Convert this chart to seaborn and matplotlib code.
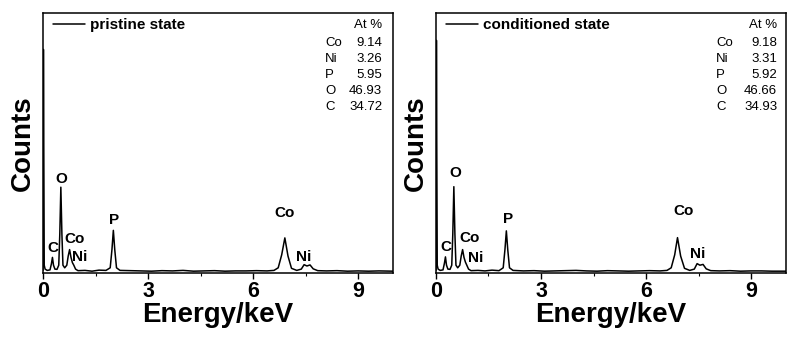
import matplotlib
matplotlib.use("Agg")
import matplotlib.pyplot as plt
from matplotlib.ticker import MultipleLocator
import seaborn as sns
import pandas as pd

# ---------------- data ----------------
energy_pristine = [0.00, 0.012, 0.02, 0.035, 0.06, 0.12, 0.20, 0.24, 0.27, 0.30, 0.34, 0.40,
                   0.45, 0.48, 0.51, 0.54, 0.57, 0.62, 0.68, 0.72, 0.76, 0.80, 0.84, 0.88,
                   0.93, 1.00, 1.20, 1.40, 1.60, 1.80, 1.92, 1.97, 2.01, 2.05, 2.10, 2.20,
                   2.50, 2.80, 3.10, 3.40, 3.70, 4.00, 4.30, 4.60, 4.90, 5.20, 5.50, 5.80,
                   6.10, 6.40, 6.60, 6.72, 6.82, 6.91, 7.00, 7.10, 7.25, 7.38, 7.46, 7.54,
                   7.63, 7.72, 7.85, 8.10, 8.40, 8.70, 9.00, 9.30, 9.60, 10.0]
counts_pristine = [1.0, 86.0, 58.0, 3.0, 1.5, 1.0, 1.2, 3.5, 6.0, 3.0, 1.5, 1.4,
                   3.0, 15.0, 33.0, 15.0, 3.0, 2.0, 3.0, 6.5, 9.0, 6.0, 4.0, 3.0,
                   1.5, 0.9, 1.0, 0.7, 1.1, 1.0, 2.0, 9.0, 16.4, 9.0, 2.0, 1.0,
                   0.9, 0.8, 0.7, 0.9, 0.8, 1.0, 0.7, 0.8, 0.9, 0.7, 0.8, 0.8,
                   0.9, 0.8, 1.0, 2.0, 7.0, 13.5, 6.5, 1.8, 1.0, 1.5, 3.2, 2.7,
                   3.1, 1.6, 0.9, 0.8, 0.9, 0.7, 0.8, 0.7, 0.8, 0.7]

energy_conditioned = [0.00, 0.012, 0.02, 0.035, 0.06, 0.12, 0.20, 0.24, 0.27, 0.30, 0.34, 0.40,
                      0.45, 0.48, 0.51, 0.54, 0.57, 0.62, 0.68, 0.72, 0.76, 0.80, 0.84, 0.88,
                      0.93, 1.00, 1.20, 1.40, 1.60, 1.80, 1.92, 1.97, 2.01, 2.05, 2.10, 2.20,
                      2.50, 2.80, 3.10, 3.40, 3.70, 4.00, 4.30, 4.60, 4.90, 5.20, 5.50, 5.80,
                      6.10, 6.40, 6.60, 6.72, 6.82, 6.90, 6.99, 7.10, 7.25, 7.38, 7.46, 7.54,
                      7.63, 7.72, 7.85, 8.10, 8.40, 8.70, 9.00, 9.30, 9.60, 10.0]
counts_conditioned = [1.0, 89.5, 57.0, 3.0, 1.5, 1.0, 1.2, 3.7, 6.2, 3.0, 1.5, 1.4,
                      3.0, 15.0, 33.2, 15.0, 3.0, 2.0, 3.0, 6.5, 9.0, 6.0, 4.2, 3.0,
                      1.5, 0.9, 1.0, 0.8, 1.1, 0.9, 2.0, 9.0, 16.2, 9.0, 2.0, 1.0,
                      0.8, 0.9, 0.7, 0.8, 0.9, 1.0, 0.8, 0.7, 0.9, 0.8, 0.7, 0.8,
                      0.9, 0.8, 1.0, 2.0, 7.0, 13.6, 6.5, 1.8, 1.0, 1.5, 3.6, 3.0,
                      3.3, 1.6, 0.9, 0.8, 0.9, 0.7, 0.8, 0.8, 0.7, 0.7]

legend_labels = ["pristine state", "conditioned state"]
elements = ["Co", "Ni", "P", "O", "C"]
at_pristine = ["9.14", "3.26", "5.95", "46.93", "34.72"]
at_conditioned = ["9.18", "3.31", "5.92", "46.66", "34.93"]

peak_names = ["O", "C", "Co", "Ni", "P", "Co", "Ni"]
peak_label_e_pristine = [0.51, 0.27, 0.91, 1.06, 2.03, 6.91, 7.46]
peak_label_y_pristine = [36.0, 9.5, 13.0, 6.2, 20.4, 23.0, 6.2]
peak_label_e_conditioned = [0.55, 0.27, 0.96, 1.13, 2.05, 7.06, 7.48]
peak_label_y_conditioned = [38.5, 10.0, 13.6, 5.9, 20.9, 23.8, 7.2]

xticks = [0, 3, 6, 9]

# ---------------- style ----------------
sns.set_style("ticks")
plt.rcParams["font.family"] = ["Liberation Sans", "DejaVu Sans"]
plt.rcParams["text.color"] = "black"
plt.rcParams["axes.labelcolor"] = "black"
plt.rcParams["xtick.color"] = "black"
plt.rcParams["axes.edgecolor"] = "black"

fig = plt.figure(figsize=(7.91, 3.38), dpi=100)
ax_l = fig.add_axes([43 / 791, 65 / 338, 350 / 791, 260 / 338])
ax_r = fig.add_axes([436 / 791, 65 / 338, 350 / 791, 260 / 338])

panels = [
    (ax_l, energy_pristine, counts_pristine, legend_labels[0], at_pristine,
     peak_label_e_pristine, peak_label_y_pristine, 0.806, 0.969),
    (ax_r, energy_conditioned, counts_conditioned, legend_labels[1], at_conditioned,
     peak_label_e_conditioned, peak_label_y_conditioned, 0.80, 0.975),
]

for ax, e, c, lab, at, pe, py, xl, xv in panels:
    df = pd.DataFrame({"Energy": e, "Counts": c})
    sns.lineplot(data=df, x="Energy", y="Counts", ax=ax, color="black", lw=1.1,
                 estimator=None, sort=False, label=lab)
    ax.set_xlim(0, 10)
    ax.set_ylim(0, 100)
    ax.set_yticks([])
    ax.set_xticks(xticks)
    ax.xaxis.set_minor_locator(MultipleLocator(1.5))
    ax.tick_params(axis="x", which="major", direction="out", length=4, width=1.0,
                   labelsize=15.5, pad=2, colors="black")
    ax.tick_params(axis="x", which="minor", direction="out", length=2.5, width=0.8)
    for t in ax.get_xticklabels():
        t.set_fontweight("bold")
    for s in ax.spines.values():
        s.set_visible(True)
        s.set_linewidth(1.1)
        s.set_color("black")
    ax.set_xlabel("Energy/keV", fontsize=20, fontweight="bold", labelpad=0, color="black")
    ax.set_ylabel("Counts", fontsize=20, fontweight="bold", labelpad=5, color="black")

    leg = ax.legend(loc="upper left", bbox_to_anchor=(0.012, 1.0), frameon=False,
                    handlelength=2.1, handletextpad=0.35, borderaxespad=0.15,
                    borderpad=0.2, prop={"weight": "bold", "size": 11})
    for t in leg.get_texts():
        t.set_color("black")

    for name, x, y in zip(peak_names, pe, py):
        ax.text(x, y, name, ha="center", va="center", fontsize=11,
                fontweight="bold", color="black")

    ax.text(xv, 0.954, "At %", transform=ax.transAxes, ha="right", va="center",
            fontsize=9.5, color="black")
    ys = [0.885, 0.823, 0.762, 0.70, 0.637]
    for el, val, y in zip(elements, at, ys):
        ax.text(xl, y, el, transform=ax.transAxes, ha="left", va="center",
                fontsize=9.5, color="black")
        ax.text(xv, y, val, transform=ax.transAxes, ha="right", va="center",
                fontsize=9.5, color="black")

fig.savefig("out.png", dpi=100)
